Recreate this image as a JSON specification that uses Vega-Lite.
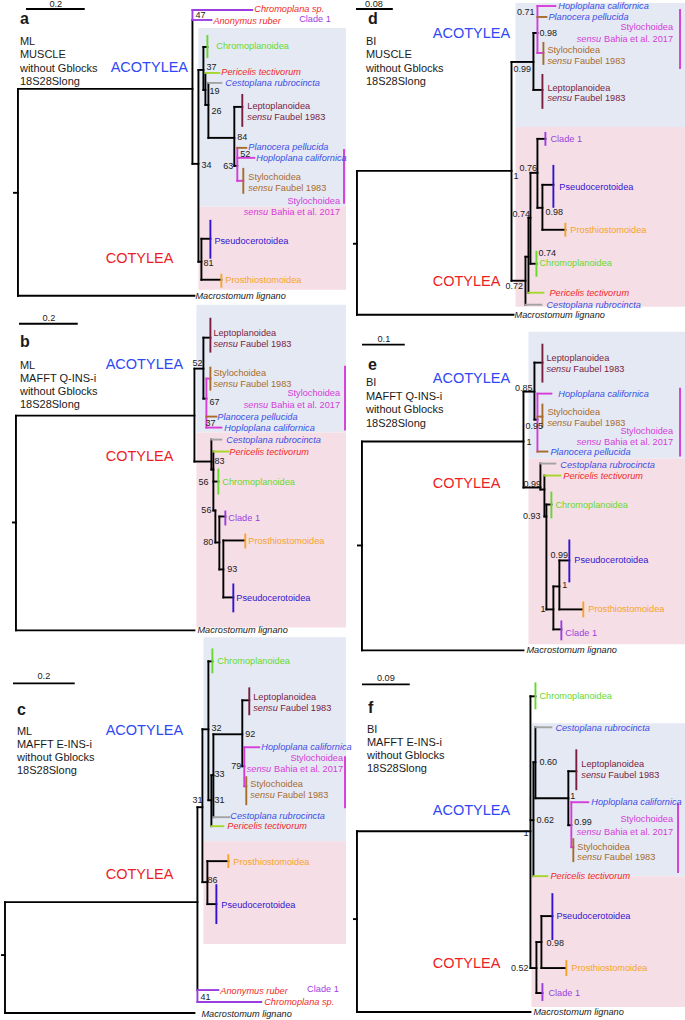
{
"$schema": "https://vega.github.io/schema/vega-lite/v6.json",
"width": 685, "height": 1020, "padding": 0,
"autosize": {"type": "fit", "contains": "padding"},
"background": "white",
"config": {"view": {"stroke": null}, "text": {"font": "Liberation Sans"}},
"datasets": {
"bg": [
{"x":197,"x2":345,"y":28,"y2":207,"c":"bA"},{"x":197,"x2":345,"y":207,"y2":290,"c":"bC"},
{"x":515,"x2":685,"y":3,"y2":127,"c":"bA"},{"x":515,"x2":685,"y":127,"y2":307,"c":"bC"},
{"x":195,"x2":345,"y":305,"y2":433,"c":"bA"},{"x":195,"x2":345,"y":433,"y2":628,"c":"bC"},
{"x":528,"x2":685,"y":332,"y2":459,"c":"bA"},{"x":528,"x2":685,"y":459,"y2":645,"c":"bC"},
{"x":202,"x2":345,"y":638,"y2":842,"c":"bA"},{"x":202,"x2":345,"y":842,"y2":945,"c":"bC"},
{"x":531,"x2":685,"y":724,"y2":877,"c":"bA"},{"x":531,"x2":685,"y":877,"y2":1008,"c":"bC"}
],
"seg": [
{"x":25,"y":9,"x2":82,"y2":9,"c":"k"},
{"x":16,"y":89,"x2":16,"y2":296,"c":"k"},
{"x":12,"y":193,"x2":16,"y2":193,"c":"k"},
{"x":16,"y":89,"x2":191,"y2":89,"c":"k"},
{"x":16,"y":296,"x2":193,"y2":296,"c":"k"},
{"x":191,"y":20,"x2":191,"y2":164,"c":"k"},
{"x":191,"y":10,"x2":191,"y2":20,"c":"cl"},
{"x":191,"y":10,"x2":251,"y2":10,"c":"cl"},
{"x":191,"y":20,"x2":210,"y2":20,"c":"cl"},
{"x":191,"y":164,"x2":197,"y2":164,"c":"k"},
{"x":197,"y":70,"x2":197,"y2":262,"c":"k"},
{"x":197,"y":70,"x2":202,"y2":70,"c":"k"},
{"x":202,"y":47,"x2":202,"y2":90,"c":"k"},
{"x":202,"y":47,"x2":206,"y2":47,"c":"k"},
{"x":206,"y":36,"x2":206,"y2":57,"c":"ch"},
{"x":202,"y":90,"x2":204,"y2":90,"c":"k"},
{"x":204,"y":73,"x2":204,"y2":105,"c":"k"},
{"x":204,"y":73,"x2":218,"y2":73,"c":"pe"},
{"x":204,"y":105,"x2":207,"y2":105,"c":"k"},
{"x":207,"y":83,"x2":207,"y2":138,"c":"k"},
{"x":207,"y":83,"x2":220,"y2":83,"c":"ce"},
{"x":207,"y":138,"x2":233,"y2":138,"c":"k"},
{"x":233,"y":107,"x2":233,"y2":166,"c":"k"},
{"x":233,"y":107,"x2":241,"y2":107,"c":"k"},
{"x":241,"y":95,"x2":241,"y2":126,"c":"le"},
{"x":233,"y":166,"x2":236,"y2":166,"c":"k"},
{"x":236,"y":148,"x2":236,"y2":181,"c":"sb"},
{"x":236,"y":148,"x2":245,"y2":148,"c":"sf"},
{"x":236,"y":158,"x2":253,"y2":158,"c":"sb"},
{"x":236,"y":181,"x2":242,"y2":181,"c":"sb"},
{"x":242,"y":169,"x2":242,"y2":193,"c":"sf"},
{"x":343,"y":150,"x2":343,"y2":203,"c":"sb"},
{"x":197,"y":262,"x2":200,"y2":262,"c":"k"},
{"x":200,"y":239,"x2":200,"y2":280,"c":"k"},
{"x":200,"y":239,"x2":209,"y2":239,"c":"k"},
{"x":209,"y":221,"x2":209,"y2":258,"c":"ps"},
{"x":200,"y":280,"x2":220,"y2":280,"c":"k"},
{"x":220,"y":275,"x2":220,"y2":287,"c":"pr"},

{"x":356,"y":9,"x2":391,"y2":9,"c":"k"},
{"x":356,"y":171,"x2":356,"y2":315,"c":"k"},
{"x":353,"y":244,"x2":356,"y2":244,"c":"k"},
{"x":356,"y":171,"x2":511,"y2":171,"c":"k"},
{"x":356,"y":315,"x2":513,"y2":315,"c":"k"},
{"x":511,"y":62,"x2":511,"y2":281,"c":"k"},
{"x":511,"y":62,"x2":533,"y2":62,"c":"k"},
{"x":533,"y":33,"x2":533,"y2":90,"c":"k"},
{"x":533,"y":33,"x2":537,"y2":33,"c":"k"},
{"x":537,"y":6,"x2":537,"y2":53,"c":"sb"},
{"x":537,"y":6,"x2":555,"y2":6,"c":"sb"},
{"x":537,"y":17,"x2":546,"y2":17,"c":"sf"},
{"x":537,"y":53,"x2":543,"y2":53,"c":"sb"},
{"x":543,"y":43,"x2":543,"y2":64,"c":"sf"},
{"x":533,"y":90,"x2":542,"y2":90,"c":"k"},
{"x":542,"y":75,"x2":542,"y2":108,"c":"le"},
{"x":680,"y":10,"x2":680,"y2":68,"c":"sb"},
{"x":511,"y":281,"x2":525,"y2":281,"c":"k"},
{"x":525,"y":257,"x2":525,"y2":305,"c":"k"},
{"x":525,"y":305,"x2":541,"y2":305,"c":"ce"},
{"x":525,"y":257,"x2":528,"y2":257,"c":"k"},
{"x":528,"y":218,"x2":528,"y2":293,"c":"k"},
{"x":528,"y":293,"x2":543,"y2":293,"c":"pe"},
{"x":528,"y":218,"x2":530,"y2":218,"c":"k"},
{"x":530,"y":173,"x2":530,"y2":264,"c":"k"},
{"x":530,"y":264,"x2":536,"y2":264,"c":"k"},
{"x":536,"y":252,"x2":536,"y2":276,"c":"ch"},
{"x":530,"y":173,"x2":537,"y2":173,"c":"k"},
{"x":537,"y":139,"x2":537,"y2":208,"c":"k"},
{"x":537,"y":139,"x2":545,"y2":139,"c":"k"},
{"x":545,"y":133,"x2":545,"y2":145,"c":"cl"},
{"x":537,"y":208,"x2":542,"y2":208,"c":"k"},
{"x":542,"y":185,"x2":542,"y2":230,"c":"k"},
{"x":542,"y":185,"x2":553,"y2":185,"c":"k"},
{"x":553,"y":166,"x2":553,"y2":207,"c":"ps"},
{"x":542,"y":230,"x2":565,"y2":230,"c":"k"},
{"x":565,"y":224,"x2":565,"y2":236,"c":"pr"},

{"x":18,"y":324,"x2":75,"y2":324,"c":"k"},
{"x":14,"y":416,"x2":14,"y2":631,"c":"k"},
{"x":11,"y":523,"x2":14,"y2":523,"c":"k"},
{"x":14,"y":416,"x2":193,"y2":416,"c":"k"},
{"x":14,"y":631,"x2":193,"y2":631,"c":"k"},
{"x":193,"y":369,"x2":193,"y2":462,"c":"k"},
{"x":193,"y":369,"x2":202,"y2":369,"c":"k"},
{"x":202,"y":338,"x2":202,"y2":399,"c":"k"},
{"x":202,"y":338,"x2":209,"y2":338,"c":"k"},
{"x":209,"y":319,"x2":209,"y2":352,"c":"le"},
{"x":202,"y":399,"x2":205,"y2":399,"c":"k"},
{"x":205,"y":379,"x2":205,"y2":428,"c":"sb"},
{"x":205,"y":379,"x2":209,"y2":379,"c":"sb"},
{"x":209,"y":368,"x2":209,"y2":390,"c":"sf"},
{"x":205,"y":417,"x2":215,"y2":417,"c":"sf"},
{"x":205,"y":428,"x2":220,"y2":428,"c":"sb"},
{"x":344,"y":367,"x2":344,"y2":430,"c":"sb"},
{"x":193,"y":462,"x2":210,"y2":462,"c":"k"},
{"x":210,"y":440,"x2":210,"y2":470,"c":"k"},
{"x":210,"y":440,"x2":220,"y2":440,"c":"ce"},
{"x":210,"y":470,"x2":212,"y2":470,"c":"k"},
{"x":212,"y":452,"x2":212,"y2":511,"c":"k"},
{"x":212,"y":452,"x2":227,"y2":452,"c":"pe"},
{"x":212,"y":482,"x2":217,"y2":482,"c":"k"},
{"x":217,"y":470,"x2":217,"y2":494,"c":"ch"},
{"x":212,"y":511,"x2":214,"y2":511,"c":"k"},
{"x":214,"y":511,"x2":214,"y2":543,"c":"k"},
{"x":214,"y":543,"x2":218,"y2":543,"c":"k"},
{"x":218,"y":517,"x2":218,"y2":570,"c":"k"},
{"x":218,"y":517,"x2":224,"y2":517,"c":"k"},
{"x":224,"y":512,"x2":224,"y2":525,"c":"cl"},
{"x":218,"y":570,"x2":222,"y2":570,"c":"k"},
{"x":222,"y":541,"x2":222,"y2":598,"c":"k"},
{"x":222,"y":541,"x2":243,"y2":541,"c":"k"},
{"x":244,"y":535,"x2":244,"y2":548,"c":"pr"},
{"x":222,"y":598,"x2":232,"y2":598,"c":"k"},
{"x":232,"y":585,"x2":232,"y2":612,"c":"ps"},

{"x":362,"y":345,"x2":403,"y2":345,"c":"k"},
{"x":361,"y":442,"x2":361,"y2":651,"c":"k"},
{"x":357,"y":546,"x2":361,"y2":546,"c":"k"},
{"x":361,"y":442,"x2":523,"y2":442,"c":"k"},
{"x":361,"y":651,"x2":523,"y2":651,"c":"k"},
{"x":523,"y":392,"x2":523,"y2":488,"c":"k"},
{"x":523,"y":392,"x2":534,"y2":392,"c":"k"},
{"x":534,"y":363,"x2":534,"y2":420,"c":"k"},
{"x":534,"y":363,"x2":542,"y2":363,"c":"k"},
{"x":542,"y":345,"x2":542,"y2":382,"c":"le"},
{"x":534,"y":420,"x2":537,"y2":420,"c":"k"},
{"x":537,"y":394,"x2":537,"y2":452,"c":"sb"},
{"x":537,"y":394,"x2":551,"y2":394,"c":"sb"},
{"x":537,"y":417,"x2":542,"y2":417,"c":"sf"},
{"x":542,"y":405,"x2":542,"y2":427,"c":"sf"},
{"x":537,"y":452,"x2":547,"y2":452,"c":"sf"},
{"x":680,"y":389,"x2":680,"y2":456,"c":"sb"},
{"x":523,"y":488,"x2":540,"y2":488,"c":"k"},
{"x":540,"y":464,"x2":540,"y2":490,"c":"k"},
{"x":540,"y":464,"x2":555,"y2":464,"c":"ce"},
{"x":540,"y":490,"x2":544,"y2":490,"c":"k"},
{"x":544,"y":476,"x2":544,"y2":517,"c":"k"},
{"x":544,"y":476,"x2":560,"y2":476,"c":"pe"},
{"x":544,"y":517,"x2":546,"y2":517,"c":"k"},
{"x":546,"y":505,"x2":546,"y2":610,"c":"k"},
{"x":546,"y":505,"x2":551,"y2":505,"c":"k"},
{"x":551,"y":493,"x2":551,"y2":518,"c":"ch"},
{"x":546,"y":610,"x2":553,"y2":610,"c":"k"},
{"x":553,"y":587,"x2":553,"y2":630,"c":"k"},
{"x":553,"y":630,"x2":561,"y2":630,"c":"k"},
{"x":561,"y":622,"x2":561,"y2":640,"c":"cl"},
{"x":553,"y":587,"x2":559,"y2":587,"c":"k"},
{"x":559,"y":561,"x2":559,"y2":610,"c":"k"},
{"x":559,"y":561,"x2":569,"y2":561,"c":"k"},
{"x":569,"y":541,"x2":569,"y2":582,"c":"ps"},
{"x":559,"y":610,"x2":582,"y2":610,"c":"k"},
{"x":583,"y":603,"x2":583,"y2":617,"c":"pr"},

{"x":12,"y":684,"x2":72,"y2":684,"c":"k"},
{"x":3,"y":903,"x2":3,"y2":1014,"c":"k"},
{"x":0,"y":956,"x2":3,"y2":956,"c":"k"},
{"x":3,"y":903,"x2":196,"y2":903,"c":"k"},
{"x":3,"y":1014,"x2":193,"y2":1014,"c":"k"},
{"x":196,"y":808,"x2":196,"y2":991,"c":"k"},
{"x":196,"y":991,"x2":196,"y2":1003,"c":"cl"},
{"x":196,"y":991,"x2":217,"y2":991,"c":"cl"},
{"x":196,"y":1003,"x2":260,"y2":1003,"c":"cl"},
{"x":196,"y":808,"x2":201,"y2":808,"c":"k"},
{"x":201,"y":730,"x2":201,"y2":883,"c":"k"},
{"x":201,"y":883,"x2":206,"y2":883,"c":"k"},
{"x":206,"y":862,"x2":206,"y2":905,"c":"k"},
{"x":206,"y":862,"x2":227,"y2":862,"c":"k"},
{"x":227,"y":856,"x2":227,"y2":868,"c":"pr"},
{"x":206,"y":905,"x2":215,"y2":905,"c":"k"},
{"x":215,"y":886,"x2":215,"y2":924,"c":"ps"},
{"x":201,"y":730,"x2":207,"y2":730,"c":"k"},
{"x":207,"y":662,"x2":207,"y2":801,"c":"k"},
{"x":207,"y":662,"x2":211,"y2":662,"c":"k"},
{"x":211,"y":650,"x2":211,"y2":673,"c":"ch"},
{"x":207,"y":801,"x2":210,"y2":801,"c":"k"},
{"x":210,"y":776,"x2":210,"y2":827,"c":"k"},
{"x":210,"y":827,"x2":222,"y2":827,"c":"pe"},
{"x":210,"y":776,"x2":212,"y2":776,"c":"k"},
{"x":212,"y":735,"x2":212,"y2":818,"c":"k"},
{"x":212,"y":818,"x2":228,"y2":818,"c":"ce"},
{"x":212,"y":735,"x2":241,"y2":735,"c":"k"},
{"x":241,"y":701,"x2":241,"y2":767,"c":"k"},
{"x":241,"y":701,"x2":248,"y2":701,"c":"k"},
{"x":248,"y":689,"x2":248,"y2":715,"c":"le"},
{"x":241,"y":767,"x2":243,"y2":767,"c":"k"},
{"x":243,"y":748,"x2":243,"y2":787,"c":"sb"},
{"x":243,"y":748,"x2":258,"y2":748,"c":"sb"},
{"x":243,"y":787,"x2":245,"y2":787,"c":"sb"},
{"x":245,"y":778,"x2":245,"y2":805,"c":"sf"},
{"x":344,"y":758,"x2":344,"y2":808,"c":"sb"},

{"x":362,"y":685,"x2":408,"y2":685,"c":"k"},
{"x":356,"y":832,"x2":356,"y2":1013,"c":"k"},
{"x":353,"y":920,"x2":356,"y2":920,"c":"k"},
{"x":356,"y":832,"x2":530,"y2":832,"c":"k"},
{"x":356,"y":1013,"x2":530,"y2":1013,"c":"k"},
{"x":530,"y":697,"x2":530,"y2":969,"c":"k"},
{"x":530,"y":697,"x2":535,"y2":697,"c":"k"},
{"x":535,"y":684,"x2":535,"y2":709,"c":"ch"},
{"x":530,"y":821,"x2":533,"y2":821,"c":"k"},
{"x":533,"y":763,"x2":533,"y2":877,"c":"k"},
{"x":533,"y":877,"x2":547,"y2":877,"c":"pe"},
{"x":533,"y":763,"x2":535,"y2":763,"c":"k"},
{"x":535,"y":728,"x2":535,"y2":799,"c":"k"},
{"x":535,"y":728,"x2":551,"y2":728,"c":"ce"},
{"x":535,"y":799,"x2":568,"y2":799,"c":"k"},
{"x":568,"y":772,"x2":568,"y2":826,"c":"k"},
{"x":568,"y":772,"x2":576,"y2":772,"c":"k"},
{"x":576,"y":751,"x2":576,"y2":790,"c":"le"},
{"x":568,"y":826,"x2":571,"y2":826,"c":"k"},
{"x":571,"y":803,"x2":571,"y2":848,"c":"sb"},
{"x":571,"y":803,"x2":588,"y2":803,"c":"sb"},
{"x":571,"y":848,"x2":573,"y2":848,"c":"sb"},
{"x":573,"y":840,"x2":573,"y2":862,"c":"sf"},
{"x":678,"y":805,"x2":678,"y2":873,"c":"sb"},
{"x":530,"y":969,"x2":536,"y2":969,"c":"k"},
{"x":536,"y":943,"x2":536,"y2":994,"c":"k"},
{"x":536,"y":994,"x2":542,"y2":994,"c":"k"},
{"x":542,"y":985,"x2":542,"y2":1001,"c":"cl"},
{"x":536,"y":943,"x2":541,"y2":943,"c":"k"},
{"x":541,"y":917,"x2":541,"y2":969,"c":"k"},
{"x":541,"y":917,"x2":552,"y2":917,"c":"k"},
{"x":552,"y":895,"x2":552,"y2":940,"c":"ps"},
{"x":541,"y":969,"x2":565,"y2":969,"c":"k"},
{"x":566,"y":962,"x2":566,"y2":976,"c":"pr"}
],
"txt": [
{"x":54,"y":4,"t":"0.2","c":"t","a":"c","s":"s"},
{"x":18,"y":19,"t":"a","c":"t","f":"b","s":"P"},
{"x":18,"y":42,"t":"ML","c":"t","s":"m"},
{"x":18,"y":55,"t":"MUSCLE","c":"t","s":"m"},
{"x":18,"y":69,"t":"without Gblocks","c":"t","s":"m"},
{"x":18,"y":82,"t":"18S28Slong","c":"t","s":"m"},
{"x":109,"y":68,"t":"ACOTYLEA","c":"A","s":"L"},
{"x":104,"y":259,"t":"COTYLEA","c":"C","s":"L"},
{"x":253,"y":9,"t":"Chromoplana sp.","c":"rd","f":"i","s":"s"},
{"x":212,"y":21,"t":"Anonymus ruber","c":"rd","f":"i","s":"s"},
{"x":194,"y":15,"t":"47","c":"t","s":"k"},
{"x":298,"y":19,"t":"Clade 1","c":"cl","s":"s"},
{"x":215,"y":46,"t":"Chromoplanoidea","c":"ch","s":"s"},
{"x":205,"y":67,"t":"37","c":"t","s":"k"},
{"x":220,"y":72,"t":"Pericelis tectivorum","c":"rd","f":"i","s":"s"},
{"x":224,"y":83,"t":"Cestoplana rubrocincta","c":"bl","f":"i","s":"s"},
{"x":208,"y":91,"t":"19","c":"t","s":"k"},
{"x":210,"y":111,"t":"26","c":"t","s":"k"},
{"x":246,"y":106,"t":"Leptoplanoidea","c":"le","s":"s"},
{"x":246,"y":117,"t":"sensu","c":"le","f":"i","s":"s"},
{"x":273,"y":117,"t":"Faubel 1983","c":"le","s":"s"},
{"x":236,"y":137,"t":"84","c":"t","s":"k"},
{"x":247,"y":147,"t":"Planocera pellucida","c":"bl","f":"i","s":"s"},
{"x":239,"y":154,"t":"52","c":"t","s":"k"},
{"x":255,"y":158,"t":"Hoploplana californica","c":"bl","f":"i","s":"s"},
{"x":232,"y":166,"t":"63","c":"t","a":"r","s":"k"},
{"x":200,"y":165,"t":"34","c":"t","s":"k"},
{"x":247,"y":177,"t":"Stylochoidea","c":"sf","s":"s"},
{"x":247,"y":188,"t":"sensu","c":"sf","f":"i","s":"s"},
{"x":274,"y":188,"t":"Faubel 1983","c":"sf","s":"s"},
{"x":339,"y":201,"t":"Stylochoidea","c":"sb","a":"r","s":"s"},
{"x":267,"y":212,"t":"sensu","c":"sb","f":"i","a":"r","s":"s"},
{"x":339,"y":212,"t":"Bahia et al. 2017","c":"sb","a":"r","s":"s"},
{"x":213,"y":241,"t":"Pseudocerotoidea","c":"ps","s":"s"},
{"x":202,"y":263,"t":"81","c":"t","s":"k"},
{"x":224,"y":280,"t":"Prosthiostomoidea","c":"pr","s":"s"},
{"x":194,"y":296,"t":"Macrostomum lignano","c":"t","f":"i","s":"s"},

{"x":373,"y":4,"t":"0.08","c":"t","a":"c","s":"s"},
{"x":367,"y":19,"t":"d","c":"t","f":"b","s":"P"},
{"x":365,"y":42,"t":"BI","c":"t","s":"m"},
{"x":365,"y":55,"t":"MUSCLE","c":"t","s":"m"},
{"x":365,"y":69,"t":"without Gblocks","c":"t","s":"m"},
{"x":365,"y":82,"t":"18S28Slong","c":"t","s":"m"},
{"x":432,"y":34,"t":"ACOTYLEA","c":"A","s":"L"},
{"x":432,"y":282,"t":"COTYLEA","c":"C","s":"L"},
{"x":558,"y":6,"t":"Hoploplana californica","c":"bl","f":"i","s":"s"},
{"x":548,"y":17,"t":"Planocera pellucida","c":"bl","f":"i","s":"s"},
{"x":534,"y":12,"t":"0.71","c":"t","a":"r","s":"k"},
{"x":539,"y":33,"t":"0.98","c":"t","s":"k"},
{"x":547,"y":50,"t":"Stylochoidea","c":"sf","s":"s"},
{"x":547,"y":61,"t":"sensu","c":"sf","f":"i","s":"s"},
{"x":574,"y":61,"t":"Faubel 1983","c":"sf","s":"s"},
{"x":513,"y":69,"t":"0.99","c":"t","s":"k"},
{"x":547,"y":88,"t":"Leptoplanoidea","c":"le","s":"s"},
{"x":547,"y":98,"t":"sensu","c":"le","f":"i","s":"s"},
{"x":574,"y":98,"t":"Faubel 1983","c":"le","s":"s"},
{"x":673,"y":27,"t":"Stylochoidea","c":"sb","a":"r","s":"s"},
{"x":601,"y":39,"t":"sensu","c":"sb","f":"i","a":"r","s":"s"},
{"x":673,"y":39,"t":"Bahia et al. 2017","c":"sb","a":"r","s":"s"},
{"x":550,"y":139,"t":"Clade 1","c":"cl","s":"s"},
{"x":519,"y":168,"t":"0.76","c":"t","s":"k"},
{"x":513,"y":176,"t":"1","c":"t","s":"k"},
{"x":559,"y":187,"t":"Pseudocerotoidea","c":"ps","s":"s"},
{"x":545,"y":212,"t":"0.98","c":"t","s":"k"},
{"x":512,"y":214,"t":"0.74","c":"t","s":"k"},
{"x":570,"y":230,"t":"Prosthiostomoidea","c":"pr","s":"s"},
{"x":538,"y":253,"t":"0.74","c":"t","s":"k"},
{"x":539,"y":263,"t":"Chromoplanoidea","c":"ch","s":"s"},
{"x":505,"y":286,"t":"0.72","c":"t","s":"k"},
{"x":549,"y":293,"t":"Pericelis tectivorum","c":"rd","f":"i","s":"s"},
{"x":546,"y":305,"t":"Cestoplana rubrocincta","c":"bl","f":"i","s":"s"},
{"x":514,"y":315,"t":"Macrostomum lignano","c":"t","f":"i","s":"s"},

{"x":47,"y":318,"t":"0.2","c":"t","a":"c","s":"s"},
{"x":18,"y":342,"t":"b","c":"t","f":"b","s":"P"},
{"x":18,"y":366,"t":"ML","c":"t","s":"m"},
{"x":18,"y":379,"t":"MAFFT Q-INS-i","c":"t","s":"m"},
{"x":18,"y":392,"t":"without Gblocks","c":"t","s":"m"},
{"x":18,"y":405,"t":"18S28Slong","c":"t","s":"m"},
{"x":104,"y":365,"t":"ACOTYLEA","c":"A","s":"L"},
{"x":104,"y":457,"t":"COTYLEA","c":"C","s":"L"},
{"x":212,"y":333,"t":"Leptoplanoidea","c":"le","s":"s"},
{"x":212,"y":344,"t":"sensu","c":"le","f":"i","s":"s"},
{"x":239,"y":344,"t":"Faubel 1983","c":"le","s":"s"},
{"x":201,"y":363,"t":"52","c":"t","a":"r","s":"k"},
{"x":212,"y":373,"t":"Stylochoidea","c":"sf","s":"s"},
{"x":212,"y":384,"t":"sensu","c":"sf","f":"i","s":"s"},
{"x":239,"y":384,"t":"Faubel 1983","c":"sf","s":"s"},
{"x":208,"y":402,"t":"67","c":"t","s":"k"},
{"x":339,"y":393,"t":"Stylochoidea","c":"sb","a":"r","s":"s"},
{"x":267,"y":405,"t":"sensu","c":"sb","f":"i","a":"r","s":"s"},
{"x":339,"y":405,"t":"Bahia et al. 2017","c":"sb","a":"r","s":"s"},
{"x":216,"y":417,"t":"Planocera pellucida","c":"bl","f":"i","s":"s"},
{"x":204,"y":423,"t":"37","c":"t","s":"k"},
{"x":223,"y":428,"t":"Hoploplana californica","c":"bl","f":"i","s":"s"},
{"x":225,"y":440,"t":"Cestoplana rubrocincta","c":"bl","f":"i","s":"s"},
{"x":228,"y":452,"t":"Pericelis tectivorum","c":"rd","f":"i","s":"s"},
{"x":213,"y":461,"t":"83","c":"t","s":"k"},
{"x":207,"y":482,"t":"56","c":"t","a":"r","s":"k"},
{"x":221,"y":482,"t":"Chromoplanoidea","c":"ch","s":"s"},
{"x":210,"y":511,"t":"56","c":"t","a":"r","s":"k"},
{"x":227,"y":519,"t":"Clade 1","c":"cl","s":"s"},
{"x":212,"y":543,"t":"80","c":"t","a":"r","s":"k"},
{"x":247,"y":542,"t":"Prosthiostomoidea","c":"pr","s":"s"},
{"x":226,"y":570,"t":"93","c":"t","s":"k"},
{"x":235,"y":599,"t":"Pseudocerotoidea","c":"ps","s":"s"},
{"x":196,"y":631,"t":"Macrostomum lignano","c":"t","f":"i","s":"s"},

{"x":383,"y":339,"t":"0.1","c":"t","a":"c","s":"s"},
{"x":367,"y":365,"t":"e","c":"t","f":"b","s":"P"},
{"x":365,"y":383,"t":"BI","c":"t","s":"m"},
{"x":365,"y":397,"t":"MAFFT Q-INS-i","c":"t","s":"m"},
{"x":365,"y":410,"t":"without Gblocks","c":"t","s":"m"},
{"x":365,"y":424,"t":"18S28Slong","c":"t","s":"m"},
{"x":432,"y":379,"t":"ACOTYLEA","c":"A","s":"L"},
{"x":432,"y":484,"t":"COTYLEA","c":"C","s":"L"},
{"x":546,"y":358,"t":"Leptoplanoidea","c":"le","s":"s"},
{"x":546,"y":369,"t":"sensu","c":"le","f":"i","s":"s"},
{"x":573,"y":369,"t":"Faubel 1983","c":"le","s":"s"},
{"x":532,"y":388,"t":"0.85","c":"t","a":"r","s":"k"},
{"x":558,"y":394,"t":"Hoploplana californica","c":"bl","f":"i","s":"s"},
{"x":547,"y":412,"t":"Stylochoidea","c":"sf","s":"s"},
{"x":547,"y":423,"t":"sensu","c":"sf","f":"i","s":"s"},
{"x":574,"y":423,"t":"Faubel 1983","c":"sf","s":"s"},
{"x":525,"y":426,"t":"0.95","c":"t","s":"k"},
{"x":673,"y":431,"t":"Stylochoidea","c":"sb","a":"r","s":"s"},
{"x":601,"y":442,"t":"sensu","c":"sb","f":"i","a":"r","s":"s"},
{"x":673,"y":442,"t":"Bahia et al. 2017","c":"sb","a":"r","s":"s"},
{"x":526,"y":442,"t":"1","c":"t","s":"k"},
{"x":550,"y":452,"t":"Planocera pellucida","c":"bl","f":"i","s":"s"},
{"x":560,"y":465,"t":"Cestoplana rubrocincta","c":"bl","f":"i","s":"s"},
{"x":563,"y":476,"t":"Pericelis tectivorum","c":"rd","f":"i","s":"s"},
{"x":523,"y":484,"t":"0.99","c":"t","s":"k"},
{"x":555,"y":505,"t":"Chromoplanoidea","c":"ch","s":"s"},
{"x":540,"y":517,"t":"0.93","c":"t","a":"r","s":"k"},
{"x":550,"y":556,"t":"0.99","c":"t","s":"k"},
{"x":574,"y":561,"t":"Pseudocerotoidea","c":"ps","s":"s"},
{"x":562,"y":586,"t":"1","c":"t","s":"k"},
{"x":545,"y":610,"t":"1","c":"t","a":"r","s":"k"},
{"x":588,"y":610,"t":"Prosthiostomoidea","c":"pr","s":"s"},
{"x":565,"y":634,"t":"Clade 1","c":"cl","s":"s"},
{"x":526,"y":651,"t":"Macrostomum lignano","c":"t","f":"i","s":"s"},

{"x":42,"y":677,"t":"0.2","c":"t","a":"c","s":"s"},
{"x":15,"y":711,"t":"c","c":"t","f":"b","s":"P"},
{"x":15,"y":733,"t":"ML","c":"t","s":"m"},
{"x":15,"y":746,"t":"MAFFT E-INS-i","c":"t","s":"m"},
{"x":15,"y":759,"t":"without Gblocks","c":"t","s":"m"},
{"x":15,"y":772,"t":"18S28Slong","c":"t","s":"m"},
{"x":104,"y":732,"t":"ACOTYLEA","c":"A","s":"L"},
{"x":104,"y":876,"t":"COTYLEA","c":"C","s":"L"},
{"x":216,"y":662,"t":"Chromoplanoidea","c":"ch","s":"s"},
{"x":252,"y":698,"t":"Leptoplanoidea","c":"le","s":"s"},
{"x":252,"y":709,"t":"sensu","c":"le","f":"i","s":"s"},
{"x":279,"y":709,"t":"Faubel 1983","c":"le","s":"s"},
{"x":210,"y":729,"t":"32","c":"t","s":"k"},
{"x":244,"y":735,"t":"92","c":"t","s":"k"},
{"x":260,"y":748,"t":"Hoploplana californica","c":"bl","f":"i","s":"s"},
{"x":342,"y":759,"t":"Stylochoidea","c":"sb","a":"r","s":"s"},
{"x":270,"y":770,"t":"sensu","c":"sb","f":"i","a":"r","s":"s"},
{"x":342,"y":770,"t":"Bahia et al. 2017","c":"sb","a":"r","s":"s"},
{"x":240,"y":767,"t":"79","c":"t","a":"r","s":"k"},
{"x":213,"y":775,"t":"33","c":"t","s":"k"},
{"x":249,"y":785,"t":"Stylochoidea","c":"sf","s":"s"},
{"x":249,"y":796,"t":"sensu","c":"sf","f":"i","s":"s"},
{"x":276,"y":796,"t":"Faubel 1983","c":"sf","s":"s"},
{"x":201,"y":801,"t":"31","c":"t","a":"r","s":"k"},
{"x":213,"y":801,"t":"31","c":"t","s":"k"},
{"x":229,"y":817,"t":"Cestoplana rubrocincta","c":"bl","f":"i","s":"s"},
{"x":226,"y":827,"t":"Pericelis tectivorum","c":"rd","f":"i","s":"s"},
{"x":232,"y":863,"t":"Prosthiostomoidea","c":"pr","s":"s"},
{"x":206,"y":881,"t":"86","c":"t","s":"k"},
{"x":220,"y":906,"t":"Pseudocerotoidea","c":"ps","s":"s"},
{"x":219,"y":992,"t":"Anonymus ruber","c":"rd","f":"i","s":"s"},
{"x":306,"y":990,"t":"Clade 1","c":"cl","s":"s"},
{"x":199,"y":998,"t":"41","c":"t","s":"k"},
{"x":263,"y":1003,"t":"Chromoplana sp.","c":"rd","f":"i","s":"s"},
{"x":200,"y":1015,"t":"Macrostomum lignano","c":"t","f":"i","s":"s"},

{"x":385,"y":679,"t":"0.09","c":"t","a":"c","s":"s"},
{"x":367,"y":709,"t":"f","c":"t","f":"b","s":"P"},
{"x":366,"y":731,"t":"BI","c":"t","s":"m"},
{"x":366,"y":744,"t":"MAFFT E-INS-i","c":"t","s":"m"},
{"x":366,"y":757,"t":"without Gblocks","c":"t","s":"m"},
{"x":366,"y":770,"t":"18S28Slong","c":"t","s":"m"},
{"x":432,"y":812,"t":"ACOTYLEA","c":"A","s":"L"},
{"x":432,"y":965,"t":"COTYLEA","c":"C","s":"L"},
{"x":539,"y":697,"t":"Chromoplanoidea","c":"ch","s":"s"},
{"x":555,"y":729,"t":"Cestoplana rubrocincta","c":"bl","f":"i","s":"s"},
{"x":539,"y":763,"t":"0.60","c":"t","s":"k"},
{"x":581,"y":765,"t":"Leptoplanoidea","c":"le","s":"s"},
{"x":581,"y":776,"t":"sensu","c":"le","f":"i","s":"s"},
{"x":608,"y":776,"t":"Faubel 1983","c":"le","s":"s"},
{"x":570,"y":797,"t":"1","c":"t","s":"k"},
{"x":591,"y":803,"t":"Hoploplana californica","c":"bl","f":"i","s":"s"},
{"x":536,"y":821,"t":"0.62","c":"t","s":"k"},
{"x":673,"y":820,"t":"Stylochoidea","c":"sb","a":"r","s":"s"},
{"x":601,"y":833,"t":"sensu","c":"sb","f":"i","a":"r","s":"s"},
{"x":673,"y":833,"t":"Bahia et al. 2017","c":"sb","a":"r","s":"s"},
{"x":574,"y":823,"t":"0.99","c":"t","s":"k"},
{"x":528,"y":834,"t":"1","c":"t","a":"r","s":"k"},
{"x":577,"y":848,"t":"Stylochoidea","c":"sf","s":"s"},
{"x":577,"y":858,"t":"sensu","c":"sf","f":"i","s":"s"},
{"x":604,"y":858,"t":"Faubel 1983","c":"sf","s":"s"},
{"x":550,"y":877,"t":"Pericelis tectivorum","c":"rd","f":"i","s":"s"},
{"x":556,"y":917,"t":"Pseudocerotoidea","c":"ps","s":"s"},
{"x":546,"y":944,"t":"0.98","c":"t","s":"k"},
{"x":528,"y":969,"t":"0.52","c":"t","a":"r","s":"k"},
{"x":571,"y":969,"t":"Prosthiostomoidea","c":"pr","s":"s"},
{"x":548,"y":994,"t":"Clade 1","c":"cl","s":"s"},
{"x":533,"y":1013,"t":"Macrostomum lignano","c":"t","f":"i","s":"s"}
]
},
"encoding": {
"x": {"field": "x", "type": "quantitative", "scale": {"domain": [0, 685], "nice": false, "zero": false}, "axis": null},
"y": {"field": "y", "type": "quantitative", "scale": {"domain": [0, 1020], "nice": false, "zero": false, "reverse": true}, "axis": null},
"color": {"field": "c", "type": "nominal", "legend": null, "scale": {
"domain": ["k","t","cl","ch","pe","ce","le","sf","sb","ps","pr","bl","rd","A","C","bA","bC"],
"range": ["#000000","#1a1a1a","#9b3ee0","#66d92e","#a6d62a","#a3a3a3","#7a1d3e","#a86b2c","#d53cd8","#3214d0","#f5a42a","#3b4fe4","#ef2a2a","#2f48f4","#ee1c24","#e4e9f4","#f6dee6"]}}
},
"layer": [
{"data": {"name": "bg"}, "mark": {"type": "rect"}, "encoding": {"x2": {"field": "x2"}, "y2": {"field": "y2"}}},
{"data": {"name": "seg"}, "mark": {"type": "rule", "strokeWidth": 1.9, "strokeCap": "square"}, "encoding": {"x2": {"field": "x2"}, "y2": {"field": "y2"}}},
{"data": {"name": "txt"}, "transform": [{"filter": "datum.f !== 'i' && datum.f !== 'b' && datum.a !== 'r' && datum.a !== 'c'"}],
 "mark": {"type": "text", "align": "left", "baseline": "middle", "font": "Liberation Sans"},
 "encoding": {"text": {"field": "t"}, "size": {"field": "s", "type": "ordinal", "legend": null, "scale": {"type": "ordinal", "domain": ["s","k","m","L","P"], "range": [9.2, 9, 11, 14.5, 16]}}}},
{"data": {"name": "txt"}, "transform": [{"filter": "datum.f !== 'i' && datum.f !== 'b' && datum.a === 'r'"}],
 "mark": {"type": "text", "align": "right", "baseline": "middle", "font": "Liberation Sans"},
 "encoding": {"text": {"field": "t"}, "size": {"field": "s", "type": "ordinal", "legend": null, "scale": {"type": "ordinal", "domain": ["s","k","m","L","P"], "range": [9.2, 9, 11, 14.5, 16]}}}},
{"data": {"name": "txt"}, "transform": [{"filter": "datum.f !== 'i' && datum.f !== 'b' && datum.a === 'c'"}],
 "mark": {"type": "text", "align": "center", "baseline": "middle", "font": "Liberation Sans"},
 "encoding": {"text": {"field": "t"}, "size": {"field": "s", "type": "ordinal", "legend": null, "scale": {"type": "ordinal", "domain": ["s","k","m","L","P"], "range": [9.2, 9, 11, 14.5, 16]}}}},
{"data": {"name": "txt"}, "transform": [{"filter": "datum.f === 'i' && datum.a !== 'r'"}],
 "mark": {"type": "text", "align": "left", "baseline": "middle", "font": "Liberation Sans", "fontStyle": "italic"},
 "encoding": {"text": {"field": "t"}, "size": {"field": "s", "type": "ordinal", "legend": null, "scale": {"type": "ordinal", "domain": ["s","k","m","L","P"], "range": [9.2, 9, 11, 14.5, 16]}}}},
{"data": {"name": "txt"}, "transform": [{"filter": "datum.f === 'i' && datum.a === 'r'"}],
 "mark": {"type": "text", "align": "right", "baseline": "middle", "font": "Liberation Sans", "fontStyle": "italic"},
 "encoding": {"text": {"field": "t"}, "size": {"field": "s", "type": "ordinal", "legend": null, "scale": {"type": "ordinal", "domain": ["s","k","m","L","P"], "range": [9.2, 9, 11, 14.5, 16]}}}},
{"data": {"name": "txt"}, "transform": [{"filter": "datum.f === 'b'"}],
 "mark": {"type": "text", "align": "left", "baseline": "middle", "font": "Liberation Sans", "fontWeight": "bold"},
 "encoding": {"text": {"field": "t"}, "size": {"field": "s", "type": "ordinal", "legend": null, "scale": {"type": "ordinal", "domain": ["s","k","m","L","P"], "range": [9.2, 9, 11, 14.5, 16]}}}}
]
}
